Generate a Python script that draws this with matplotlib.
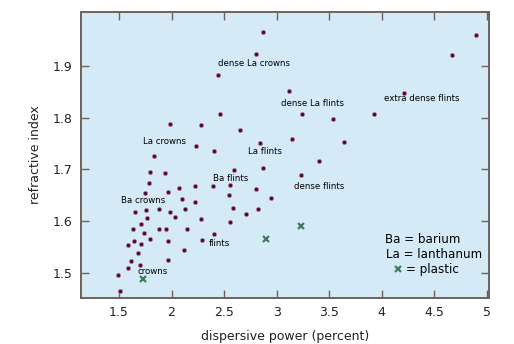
import matplotlib
matplotlib.use("Agg")
import matplotlib.pyplot as plt

# glass types: dispersive power (%) vs refractive index
glass_disp = [
    2.87, 2.80, 2.44, 3.12, 2.46, 1.985, 2.28, 2.65, 3.15, 2.84,
    2.23, 2.405, 1.83, 2.87, 2.59, 4.90, 4.67, 4.21, 3.24, 3.54,
    3.93, 3.64, 3.40, 3.23, 1.795, 1.94, 1.79, 1.745, 1.965, 2.07,
    2.22, 2.39, 2.555, 2.80, 2.95, 2.10, 2.22, 2.55, 1.65, 1.76,
    1.88, 1.985, 2.13, 2.58, 2.71, 2.82, 1.77, 2.03, 2.28, 1.705,
    2.56, 1.63, 1.88, 1.95, 2.145, 1.74, 1.80, 1.64, 1.965, 2.40,
    2.29, 1.585, 1.705, 1.685, 2.115, 1.61, 1.965, 1.585, 1.70, 1.49,
    1.51,
]
glass_index = [
    1.965, 1.922, 1.882, 1.851, 1.807, 1.788, 1.785, 1.775, 1.758, 1.751,
    1.744, 1.735, 1.725, 1.702, 1.698, 1.960, 1.920, 1.848, 1.807, 1.797,
    1.807, 1.753, 1.716, 1.688, 1.695, 1.693, 1.674, 1.655, 1.656, 1.664,
    1.668, 1.667, 1.670, 1.661, 1.645, 1.642, 1.636, 1.651, 1.618, 1.621,
    1.624, 1.617, 1.624, 1.625, 1.614, 1.624, 1.606, 1.607, 1.604, 1.595,
    1.597, 1.585, 1.585, 1.584, 1.585, 1.577, 1.566, 1.562, 1.562, 1.574,
    1.564, 1.553, 1.556, 1.538, 1.544, 1.523, 1.525, 1.509, 1.515, 1.495,
    1.464,
]

plastic_disp = [1.725, 2.895, 3.235]
plastic_index = [1.488, 1.566, 1.590]

# group names and where they sit (left edge, vertical centre)
group_names = ["dense La crowns", "dense La flints", "extra dense flints",
               "La crowns", "La flints", "Ba flints", "Ba crowns",
               "flints", "dense flints", "crowns"]
group_x = [2.44, 3.04, 4.02, 1.725, 2.73, 2.39, 1.515, 2.35, 3.165, 1.68]
group_y = [1.904, 1.827, 1.836, 1.753, 1.735, 1.682, 1.639, 1.556, 1.666, 1.502]

x_ticks = [1.5, 2, 2.5, 3, 3.5, 4, 4.5, 5]
x_ticklabels = ["1.5", "2", "2.5", "3", "3.5", "4", "4.5", "5"]
y_ticks = [1.5, 1.6, 1.7, 1.8, 1.9]

frame = "#6e625a"
bg = "#d5eaf7"
dot = "#4d0b2c"
green = "#3f7d5c"

plt.rcParams["font.family"] = ["DejaVu Sans"]

fig = plt.figure(figsize=(5.14, 3.44), dpi=100)
ax = fig.add_axes([0.1576, 0.1337, 0.7938, 0.8314])
ax.set_facecolor(bg)

ax.plot(glass_disp, glass_index, "o", ms=3.0, color=dot,
        mec="#b77d98", mew=0.5, clip_on=False, zorder=3)
ax.plot(plastic_disp, plastic_index, "x", ms=4.5, mew=1.6, color=green, zorder=3)

for name, gx, gy in zip(group_names, group_x, group_y):
    ax.text(gx, gy, name, fontsize=6.2, ha="left", va="center", color="black")

# key in the lower right
ax.text(0.745, 0.205, "Ba = barium", transform=ax.transAxes,
        fontsize=8.6, ha="left", va="center")
ax.text(0.748, 0.152, "La = lanthanum", transform=ax.transAxes,
        fontsize=8.6, ha="left", va="center")
ax.plot([0.778], [0.100], "x", transform=ax.transAxes, ms=4.5, mew=1.6, color=green)
ax.text(0.797, 0.100, "= plastic", transform=ax.transAxes,
        fontsize=8.6, ha="left", va="center")

ax.set_xlim(1.139, 5.02)
ax.set_ylim(1.451, 2.004)
ax.set_xticks(x_ticks)
ax.set_xticklabels(x_ticklabels)
ax.set_yticks(y_ticks)
ax.set_yticklabels([f"{v:.1f}" for v in y_ticks])
ax.tick_params(direction="in", length=6, width=1.0, color=frame,
               top=True, right=True, labelsize=9, pad=6, labelcolor="#222222")

for s in ax.spines.values():
    s.set_color(frame)
    s.set_linewidth(1.4)

ax.set_xlabel("dispersive power (percent)", fontsize=9, color="#222222", labelpad=8)
ax.set_ylabel("refractive index", fontsize=9, color="#222222", labelpad=8)

fig.savefig("out.png", dpi=100)
